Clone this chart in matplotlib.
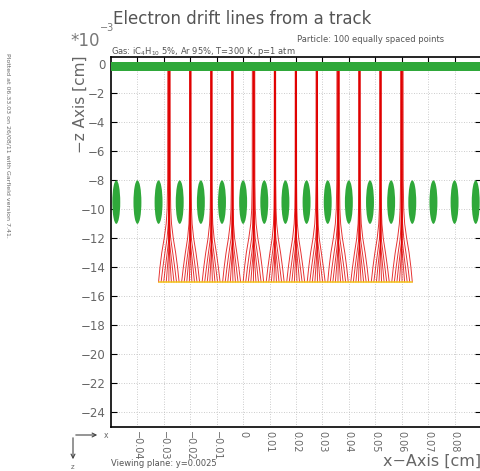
import numpy as np
import matplotlib
matplotlib.use("Agg")
import matplotlib.pyplot as plt
from matplotlib.patches import Ellipse, Rectangle, FancyArrowPatch

# geometry (x in cm, z in 1e-3 cm)
wire_x = [0.008 * k for k in range(-6, 12)]
wire_z = -9.5
wire_r_x = 0.0015          # cm
wire_r_z = 1.5             # 1e-3 cm
plane_z = (0.15, -0.45)

track_x = (-0.032, 0.064)
track_z = -15.0
n_points = 100
gap_x = [-0.028 + 0.008 * k for k in range(12)]
half_gap = 0.004

# drift line contraction toward the gap centre, read along z
prof_z = [-15.0, -14.0, -13.0, -12.0, -11.0, -10.0, -8.0, plane_z[1]]
prof_centre = [1.0, 0.5, 0.0, -0.4, -0.4, -0.3, -0.25, -0.25]
prof_edge = [1.0, 0.87, 0.7, 0.47, 0.28, 0.19, 0.14, 0.13]

xticks = [-0.04, -0.03, -0.02, -0.01, 0, 0.01, 0.02, 0.03, 0.04, 0.05, 0.06, 0.07, 0.08]
xtick_labels = ["−0.04", "−0.03", "−0.02", "−0.01", "0", "0.01", "0.02", "0.03",
                "0.04", "0.05", "0.06", "0.07", "0.08"]
yticks = list(range(0, -25, -2))

_RED = "#e00000"
_GREEN = "#2fa83a"
_YELLOW = "#f2c417"
_TXT = "#555555"

fig = plt.figure(figsize=(4.81, 4.71), dpi=100)
ax = fig.add_axes([111 / 481, 1 - 427 / 471, 370 / 481, 370 / 471])
ax.set_xlim(-0.05, 0.09)
ax.set_ylim(-25, 0.5)

# grid
for x in xticks:
    ax.axvline(x, color="#bbbbbb", lw=0.6, ls=(0, (1, 2)), zorder=0)
for y in yticks:
    ax.axhline(y, color="#bbbbbb", lw=0.6, ls=(0, (1, 2)), zorder=0)

# drift lines
pts = np.linspace(track_x[0], track_x[1], n_points)
pc = np.array(prof_centre)
pe = np.array(prof_edge)
for x0 in pts:
    k = int(np.clip(np.round((x0 - gap_x[0]) / 0.008), 0, len(gap_x) - 1))
    xc = gap_x[k]
    d = x0 - xc
    u = min(abs(d) / half_gap, 1.0)
    shrink = (1 - u) * pc + u * pe
    ax.plot(xc + d * shrink, prof_z, color=_RED, lw=0.7, alpha=0.8, zorder=2)

# wires and plane
for wx in wire_x:
    ax.add_patch(Ellipse((wx, wire_z), 2 * wire_r_x, 2 * wire_r_z,
                         facecolor=_GREEN, edgecolor="none", zorder=3))
ax.add_patch(Rectangle((-0.05, plane_z[1]), 0.14, plane_z[0] - plane_z[1],
                       facecolor=_GREEN, edgecolor="none", zorder=3))

# track
ax.plot(track_x, [track_z, track_z], color=_YELLOW, lw=1.1, zorder=4)

# axes styling
ax.set_xticks(xticks)
ax.set_xticklabels(xtick_labels, rotation=-90, fontsize=7, color="#666666")
ax.set_yticks(yticks)
ax.set_yticklabels(["0"] + [f"−{-v}" for v in yticks[1:]], fontsize=8.5, color="#666666")
ax.tick_params(axis="x", direction="in", length=6, top=True, bottom=False,
               labelbottom=True, pad=3)
ax.tick_params(axis="y", direction="in", length=4, right=True, left=True, pad=4)
for s in ax.spines.values():
    s.set_linewidth(1.2)

# labels and annotations
fig.text(113 / 481, 1 - 19 / 471, "Electron drift lines from a track",
         fontsize=12, color=_TXT, va="center", ha="left")
fig.text(0.147, 1 - 41 / 471, "*10", fontsize=12, color="#777777", va="center", ha="left")
fig.text(0.208, 1 - 28 / 471, "−3", fontsize=7, color="#777777", va="center", ha="left")
fig.text(297 / 481, 1 - 40 / 471, "Particle: 100 equally spaced points",
         fontsize=6, color=_TXT, va="center", ha="left")
fig.text(111 / 481, 1 - 51 / 471,
         "Gas: iC$_4$H$_{10}$ 5%, Ar 95%, T=300 K, p=1 atm",
         fontsize=6, color=_TXT, va="center", ha="left")
fig.text(80 / 481, 1 - 104 / 471, "−z Axis [cm]", rotation=90, fontsize=11,
         color="#666666", va="center", ha="center")
fig.text(1.0, 1 - 461 / 471, "x−Axis [cm]", fontsize=11.5, color="#666666",
         va="center", ha="right")
fig.text(111 / 481, 1 - 464 / 471, "Viewing plane: y=0.0025",
         fontsize=6, color=_TXT, va="center", ha="left")
fig.text(8 / 481, 1 - 145 / 471,
         "Plotted at 06.33.03 on 26/08/11 with Garfield version 7.41.",
         rotation=-90, fontsize=4.5, color="#666666", va="center", ha="center")

# small orientation arrows
ox, oy = 73 / 481, 1 - 435 / 471
fig.add_artist(FancyArrowPatch(
    (ox, oy), (ox + 27 / 481, oy), transform=fig.transFigure,
    arrowstyle="->", mutation_scale=7, color="#444444", lw=0.8))
fig.add_artist(FancyArrowPatch(
    (ox, oy), (ox, oy - 27 / 471), transform=fig.transFigure,
    arrowstyle="->", mutation_scale=7, color="#444444", lw=0.8))
fig.text(ox + 31 / 481, oy, "x", fontsize=5.5, color="#666666", va="center", ha="left")
fig.text(ox, 1 - 467 / 471, "z", fontsize=5, color="#666666", va="center", ha="center")

fig.savefig("out.png", dpi=100)
